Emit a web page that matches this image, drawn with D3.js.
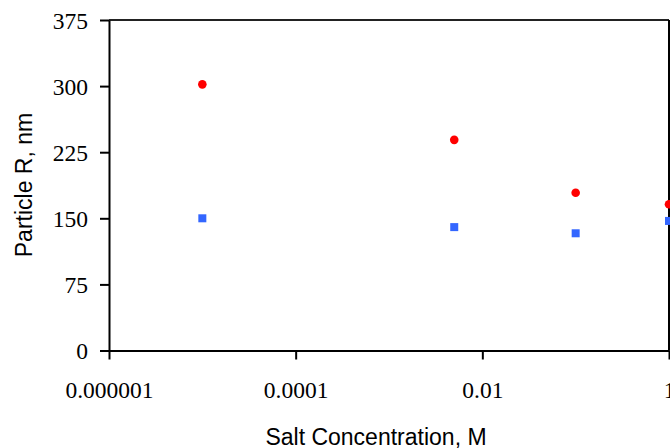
<!DOCTYPE html>
<html><head><meta charset="utf-8">
<script src="https://cdn.jsdelivr.net/npm/d3@7"></script>
<style>body{margin:0;background:#fff;} svg{display:block;}</style>
</head><body>
<script>
const concentration = [0.00001, 0.005, 0.1, 1];
const seriesRed = [302, 239, 179, 166];
const seriesBlue = [150, 140, 133, 147];
const xTicks = [0.000001, 0.0001, 0.01, 1];
const xTickLabels = ["0.000001", "0.0001", "0.01", "1"];
const yTicks = [0, 75, 150, 225, 300, 375];

const W = 670, H = 448;
const L = 109, R = 669, T = 20, B = 350.5;
const svg = d3.select("body").append("svg").attr("width", W).attr("height", H);

const x = d3.scaleLog().domain([0.000001, 1]).range([L, R]);
const y = d3.scaleLinear().domain([0, 375]).range([B, T]);

// frame top & right
svg.append("line").attr("x1", L).attr("x2", R).attr("y1", T).attr("y2", T)
  .attr("stroke", "#222").attr("stroke-width", 2);
svg.append("line").attr("x1", R).attr("x2", R).attr("y1", T).attr("y2", B)
  .attr("stroke", "#000").attr("stroke-width", 2);

const xAxis = d3.axisBottom(x).tickValues(xTicks).tickFormat((d, i) => xTickLabels[i])
  .tickSize(9).tickSizeOuter(0).tickPadding(22);
const gx = svg.append("g").attr("transform", `translate(0,${B})`).call(xAxis);
const yAxis = d3.axisLeft(y).tickValues(yTicks).tickSize(9).tickSizeOuter(0).tickPadding(12);
const gy = svg.append("g").attr("transform", `translate(${L},0)`).call(yAxis);

[gx, gy].forEach(g => {
  g.select(".domain").attr("stroke", "#000").attr("stroke-width", 2);
  g.selectAll(".tick line").attr("stroke", "#000").attr("stroke-width", 2);
  g.selectAll(".tick text").attr("fill", "#000")
    .style("font-family", "'Liberation Serif','Times New Roman',serif").style("font-size", "23.5px");
});
gy.selectAll(".tick text").attr("dy", "0.35em");

// data
svg.append("g").selectAll("rect").data(concentration).join("rect")
  .attr("x", (d) => x(d) - 4).attr("y", (d, i) => y(seriesBlue[i]) - 4)
  .attr("width", 8).attr("height", 8).attr("fill", "#3366ff");
svg.append("g").selectAll("circle").data(concentration).join("circle")
  .attr("cx", (d) => x(d)).attr("cy", (d, i) => y(seriesRed[i]))
  .attr("r", 4.3).attr("fill", "#ff0000");

// titles
svg.append("text").attr("x", 376).attr("y", 445).attr("text-anchor", "middle")
  .style("font-family", "'Liberation Sans',Arial,sans-serif").style("font-size", "23px")
  .text("Salt Concentration, M");
svg.append("text").attr("transform", `translate(32,185) rotate(-90)`).attr("text-anchor", "middle")
  .style("font-family", "'Liberation Sans',Arial,sans-serif").style("font-size", "23px")
  .text("Particle R, nm");
</script>
</body></html>
